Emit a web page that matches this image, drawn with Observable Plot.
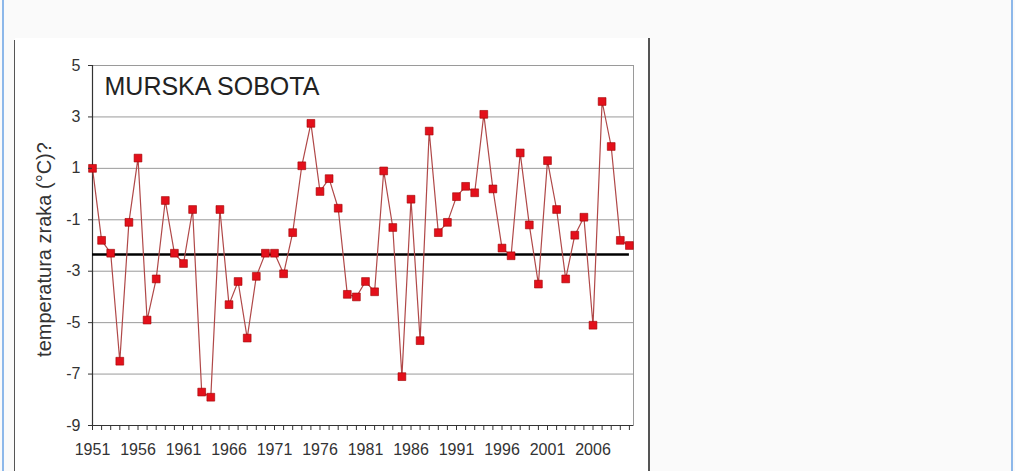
<!DOCTYPE html>
<html>
<head>
<meta charset="utf-8">
<script src="https://cdn.jsdelivr.net/npm/d3@7"></script>
<script src="https://cdn.jsdelivr.net/npm/@observablehq/plot@0.6"></script>
<style>
  html, body { margin: 0; padding: 0; width: 1015px; height: 471px; overflow: hidden; background: #fafafa; }
  .blue { position: absolute; top: 0; width: 2px; height: 471px; background: #8db8ea; }
  .dark { position: absolute; width: 1.5px; background: #555; }
  #chart { position: absolute; left: 15px; top: 38px; width: 633px; height: 433px; background: #fff; }
  #chart svg { display: block; }
</style>
</head>
<body>
<div class="blue" style="left:2px"></div>
<div class="blue" style="left:1011px"></div>
<div class="dark" style="left:14px; top:40px; height:431px"></div>
<div style="position:absolute; left:14px; top:40px; width:4px; height:1.5px; background:#555"></div>
<div class="dark" style="left:648px; top:38px; height:433px"></div>
<div id="chart"></div>
<script>
// Data (annual values, Murska Sobota)
const years = d3.range(1951, 2011);
const temps = [
  1.0, -1.8, -2.3, -6.5, -1.1, 1.4, -4.9, -3.3, -0.25, -2.3,
  -2.7, -0.6, -7.7, -7.9, -0.6, -4.3, -3.4, -5.6, -3.2, -2.3,
  -2.3, -3.1, -1.5, 1.1, 2.75, 0.1, 0.6, -0.55, -3.9, -4.0,
  -3.4, -3.8, 0.9, -1.3, -7.1, -0.2, -5.7, 2.45, -1.5, -1.1,
  -0.1, 0.3, 0.05, 3.1, 0.2, -2.1, -2.4, 1.6, -1.2, -3.5,
  1.3, -0.6, -3.3, -1.6, -0.9, -5.1, 3.6, 1.85, -1.8, -2.0
];
const normalValue = -2.35;            // horizontal reference line (1961–1990 mean)
const yTicks = [-9, -7, -5, -3, -1, 1, 3, 5];
const xLabelYears = [1951, 1956, 1961, 1966, 1971, 1976, 1981, 1986, 1991, 1996, 2001, 2006];
const stationName = "MURSKA SOBOTA";
const yTitle = "temperatura zraka (°C)?";

const data = years.map((year, i) => ({year, temp: temps[i]}));

const chart = Plot.plot({
  width: 633,
  height: 433,
  marginLeft: 77,
  marginRight: 15,
  marginTop: 27,
  marginBottom: 46,
  style: {fontFamily: "'Liberation Sans', Arial, sans-serif", background: "white", color: "#333", fontSize: "16px"},
  x: {domain: [1951, 2010.45]},
  y: {domain: [-9, 5]},
  marks: [
    Plot.gridY(yTicks, {stroke: "#9a9a9a", strokeOpacity: 1, strokeWidth: 1}),
    Plot.frame({stroke: "#9a9a9a"}),
    Plot.ruleX([years[0]], {stroke: "#333", strokeWidth: 1.2}),
    Plot.ruleY([yTicks[0]], {stroke: "#333", strokeWidth: 1.2}),
    Plot.ruleY([normalValue], {x1: years[0], x2: years[years.length - 1], stroke: "#000", strokeWidth: 2.5}),
    Plot.line(data, {x: "year", y: "temp", stroke: "#b04848", strokeWidth: 1.2}),
    Plot.dot(data, {x: "year", y: "temp", symbol: "square", r: 4.4, fill: "#e3101b", stroke: "#a00000", strokeWidth: 0.6}),
    Plot.axisY(yTicks, {tickSize: 4, tickPadding: 8, label: null, fontSize: 16, tickFormat: d => String(d)}),
    Plot.axisX(years, {tickSize: 5, tickFormat: () => "", label: null}),
    Plot.axisX(xLabelYears, {tickSize: 0, tickPadding: 18, tickFormat: d => String(d), label: null, fontSize: 16}),
    Plot.text([stationName], {frameAnchor: "top-left", dx: 12, dy: 12, lineAnchor: "top", fontSize: 25, fill: "#222", text: d => d}),
    Plot.text([yTitle], {frameAnchor: "left", textAnchor: "middle", dx: -48, dy: 4, rotate: -90, fontSize: 20, fill: "#333", text: d => d})
  ]
});
document.getElementById("chart").appendChild(chart);
</script>
</body>
</html>
